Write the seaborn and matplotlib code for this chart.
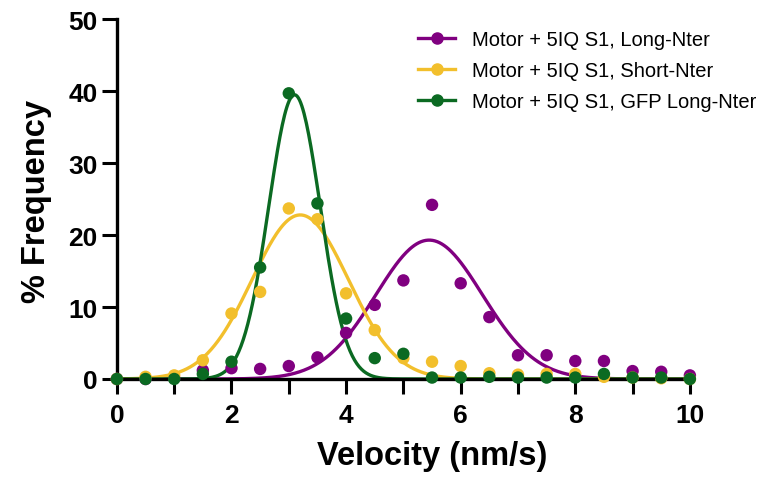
import numpy as np
import pandas as pd
import matplotlib
matplotlib.use("Agg")
import matplotlib.pyplot as plt
from matplotlib.lines import Line2D
import seaborn as sns

velocity = [0, 0.5, 1, 1.5, 2, 2.5, 3, 3.5, 4, 4.5, 5, 5.5, 6, 6.5, 7, 7.5, 8, 8.5, 9, 9.5, 10]
long_nter = [0, 0, 0.1, 1.2, 1.5, 1.4, 1.8, 3.0, 6.4, 10.3, 13.7, 24.2, 13.3, 8.6, 3.3, 3.3, 2.5, 2.5, 1.1, 1.0, 0.5]
short_nter = [0, 0.3, 0.5, 2.6, 9.1, 12.1, 23.7, 22.2, 11.9, 6.8, 2.9, 2.4, 1.8, 0.8, 0.6, 0.7, 0.7, 0.3, 0.2, 0.1, 0]
gfp_long_nter = [0, 0, 0, 0.7, 2.4, 15.5, 39.7, 24.4, 8.4, 2.9, 3.5, 0.2, 0.2, 0.3, 0.2, 0.2, 0.2, 0.7, 0.2, 0.2, 0]

series_names = ["Motor + 5IQ S1, Long-Nter", "Motor + 5IQ S1, Short-Nter", "Motor + 5IQ S1, GFP Long-Nter"]
colors = ["#800080", "#F2BF2C", "#0B6A22"]
# Gaussian fit parameters: amplitude, mean, sd
fit_amp = [19.3, 22.8, 39.5]
fit_mean = [5.45, 3.2, 3.1]
fit_sd = [0.93, 0.84, 0.45]

plt.rcParams['font.family'] = ['Liberation Sans', 'DejaVu Sans']

pts = pd.DataFrame({
    "Velocity": velocity * 3,
    "Frequency": long_nter + short_nter + gfp_long_nter,
    "Series": [series_names[0]] * len(velocity) + [series_names[1]] * len(velocity) + [series_names[2]] * len(velocity),
})

xs = np.linspace(0, 10, 500)
fit_rows = []
for name, a, m, s in zip(series_names, fit_amp, fit_mean, fit_sd):
    ys = a * np.exp(-(xs - m) ** 2 / (2 * s ** 2))
    fit_rows.append(pd.DataFrame({"Velocity": xs, "Frequency": ys, "Series": name}))
fits = pd.concat(fit_rows, ignore_index=True)

fig = plt.figure(figsize=(7.64, 4.81), dpi=100)
ax = fig.add_axes([0.153, 0.21, 0.750, 0.748])
palette = dict(zip(series_names, colors))

for name in series_names:
    sns.lineplot(data=fits[fits.Series == name], x="Velocity", y="Frequency", color=palette[name],
                 lw=2.4, ax=ax, legend=False, clip_on=False, zorder=2)
    sns.scatterplot(data=pts[pts.Series == name], x="Velocity", y="Frequency", color=palette[name],
                    s=80, edgecolor="none", ax=ax, legend=False, clip_on=False, zorder=3)

ax.set_xlim(0, 10)
ax.set_ylim(0, 50)
ax.set_xticks([0, 2, 4, 6, 8, 10])
ax.set_xticks([1, 3, 5, 7, 9], minor=True)
ax.set_yticks([0, 10, 20, 30, 40, 50])
for sp in ["top", "right"]:
    ax.spines[sp].set_visible(False)
for sp in ["left", "bottom"]:
    ax.spines[sp].set_linewidth(2.4)
ax.tick_params(axis="both", which="both", direction="out", length=11, width=2.2, labelsize=19)
ax.tick_params(axis="x", which="both", pad=6)
ax.tick_params(axis="y", which="both", pad=3)
for lab in ax.get_xticklabels() + ax.get_yticklabels():
    lab.set_fontweight("bold")
ax.set_xlabel("Velocity (nm/s)", fontsize=23.5, fontweight="bold")
ax.set_ylabel("% Frequency", fontsize=23.5, fontweight="bold")
ax.xaxis.set_label_coords(0.55, -0.169)
ax.yaxis.set_label_coords(-0.113, 0.497)

handles = [Line2D([0], [0], color=c, lw=2.4, marker="o", markersize=8) for c in colors]
fig.legend(handles, series_names, loc="upper left", bbox_to_anchor=(418 / 764, 1 - 31 / 481), frameon=False,
           fontsize=14.5, handlelength=1.85, labelspacing=0.6, handletextpad=0.85,
           borderpad=0, borderaxespad=0)

fig.savefig("out.png", dpi=100)
